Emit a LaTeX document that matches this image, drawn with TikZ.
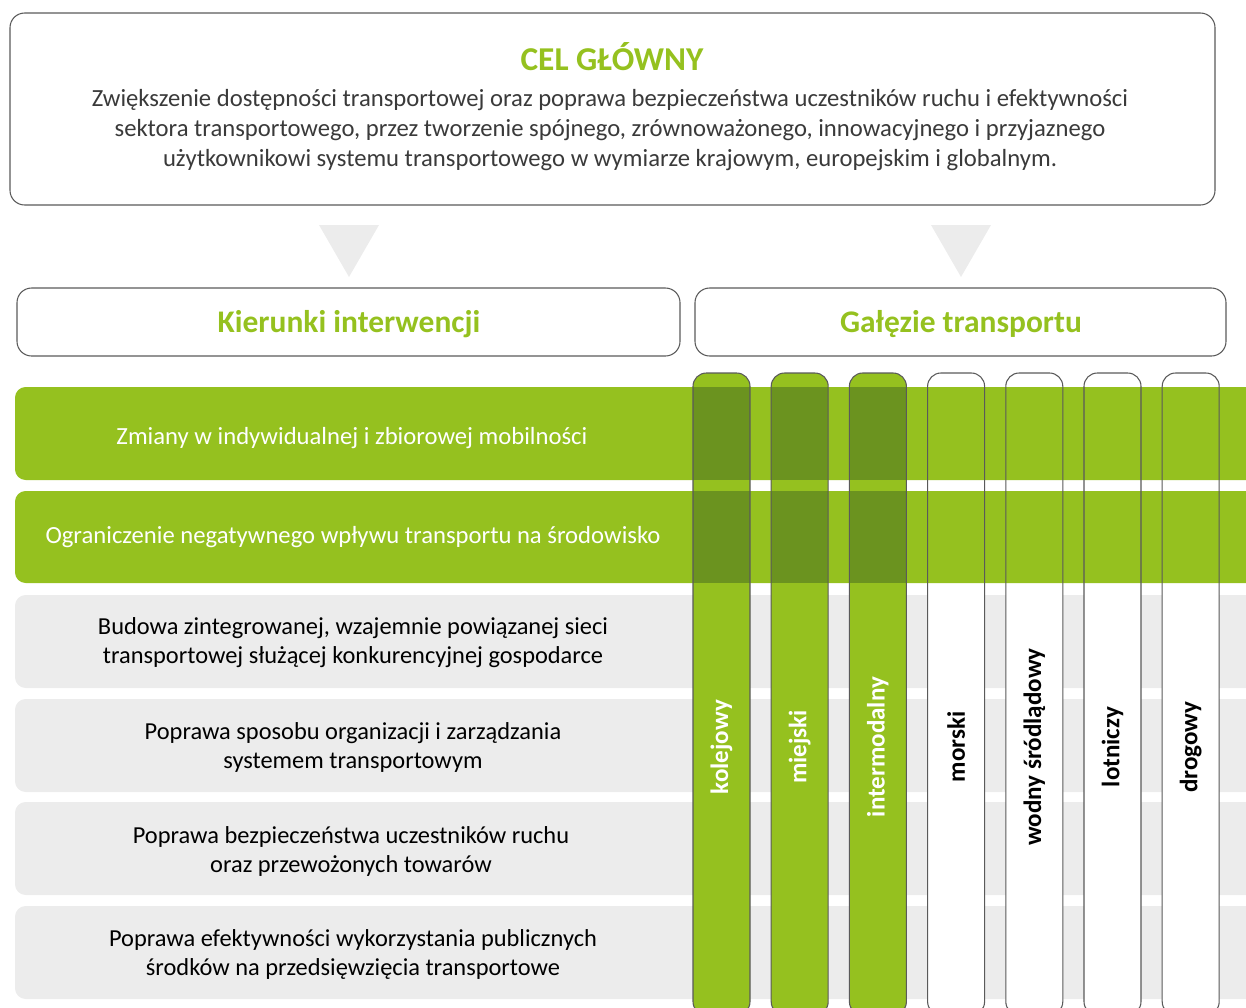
\documentclass[tikz,border=0pt]{standalone}
\usepackage{fontspec}
\setmainfont{Carlito}

\definecolor{leaf}{HTML}{95C11F}
\definecolor{moss}{HTML}{6B931F}
\definecolor{pale}{HTML}{ECECEC}
\definecolor{rim}{HTML}{5A5A5A}
\definecolor{ink}{HTML}{3A3A3A}

\begin{document}
\begin{tikzpicture}[x=0.75pt, y=-0.75pt,
	frame/.style={draw=rim, line width=0.8pt, rounded corners=11pt},
	head/.style={text=leaf, font=\fontsize{23.6}{27}\selectfont\bfseries},
	rowtext/.style={align=center, font=\fontsize{18.3}{21.75}\selectfont},
	branch/.style={rotate=90, font=\fontsize{18.8}{22}\selectfont\bfseries}]
	\useasboundingbox (0,0) rectangle (1246,1007);

	% main goal
	\draw[frame, fill=white] (10,13) rectangle (1215,205);
	\node[head, font=\fontsize{25}{29}\selectfont\bfseries] (goal) at (612,57) {CEL GŁÓWNY};
	\node[text=ink, align=center, font=\fontsize{18.5}{22.5}\selectfont] (goaltext) at (610,130)
		{Zwiększenie dostępności transportowej oraz poprawa bezpieczeństwa uczestników ruchu i efektywności\\
		 sektora transportowego, przez tworzenie spójnego, zrównoważonego, innowacyjnego i przyjaznego\\
		 użytkownikowi systemu transportowego w wymiarze krajowym, europejskim i globalnym.};

	% arrows down
	\fill[pale] (319,225) -- (379,225) -- (349,277) -- cycle;
	\fill[pale] (931,225) -- (991,225) -- (961,277) -- cycle;

	% headers
	\draw[frame] (17,288) rectangle (680,356);
	\node[head] (dirs) at (349,324) {Kierunki interwencji};
	\draw[frame] (695,288) rectangle (1226,356);
	\node[head] (modes) at (961,324) {Gałęzie transportu};

	% grey rows
	\foreach \y in {595,699,802,906}
		\fill[pale, rounded corners=8pt] (15,\y) rectangle (1270,\y+93);

	% columns
	\foreach \i/\fillc in {0/leaf,1/leaf,2/leaf,3/white,4/white,5/white,6/white}{
		\pgfmathsetmacro\xl{693+78.2*\i}
		\fill[\fillc, rounded corners=10pt] (\xl,373) rectangle (\xl+57,1015);
	}

	% green rows
	\fill[leaf, rounded corners=8pt] (15,387) rectangle (1270,480);
	\fill[leaf, rounded corners=8pt] (15,491) rectangle (1270,583);
	\foreach \i in {0,1,2}{
		\pgfmathsetmacro\xl{693+78.2*\i}
		\fill[moss] (\xl,387) rectangle (\xl+57,480);
		\fill[moss] (\xl,491) rectangle (\xl+57,583);
	}

	% column outlines and labels
	\foreach \i/\name/\tc in {0/kolejowy/white,1/miejski/white,2/intermodalny/white,3/morski/black,4/wodny śródlądowy/black,5/lotniczy/black,6/drogowy/black}{
		\pgfmathsetmacro\xl{693+78.2*\i}
		\draw[rim, line width=0.8pt, rounded corners=10pt] (\xl,373) rectangle (\xl+57,1015);
		\node[branch, text=\tc] (col\i) at (\xl+28.5,747) {\name};
	}

	% row texts
	\node[rowtext, text=white, font=\fontsize{18.5}{21.75}\selectfont] (r1) at (352,438) {Zmiany w indywidualnej i zbiorowej mobilności};
	\node[rowtext, text=white, font=\fontsize{18.5}{21.75}\selectfont] (r2) at (353,537) {Ograniczenie negatywnego wpływu transportu na środowisko};
	\node[rowtext] (r3) at (353,643) {Budowa zintegrowanej, wzajemnie powiązanej sieci\\transportowej służącej konkurencyjnej gospodarce};
	\node[rowtext] (r4) at (353,747) {Poprawa sposobu organizacji i zarządzania\\systemem transportowym};
	\node[rowtext] (r5) at (351,851) {Poprawa bezpieczeństwa uczestników ruchu\\oraz przewożonych towarów};
	\node[rowtext] (r6) at (353,954) {Poprawa efektywności wykorzystania publicznych\\środków na przedsięwzięcia transportowe};
\end{tikzpicture}
\end{document}
